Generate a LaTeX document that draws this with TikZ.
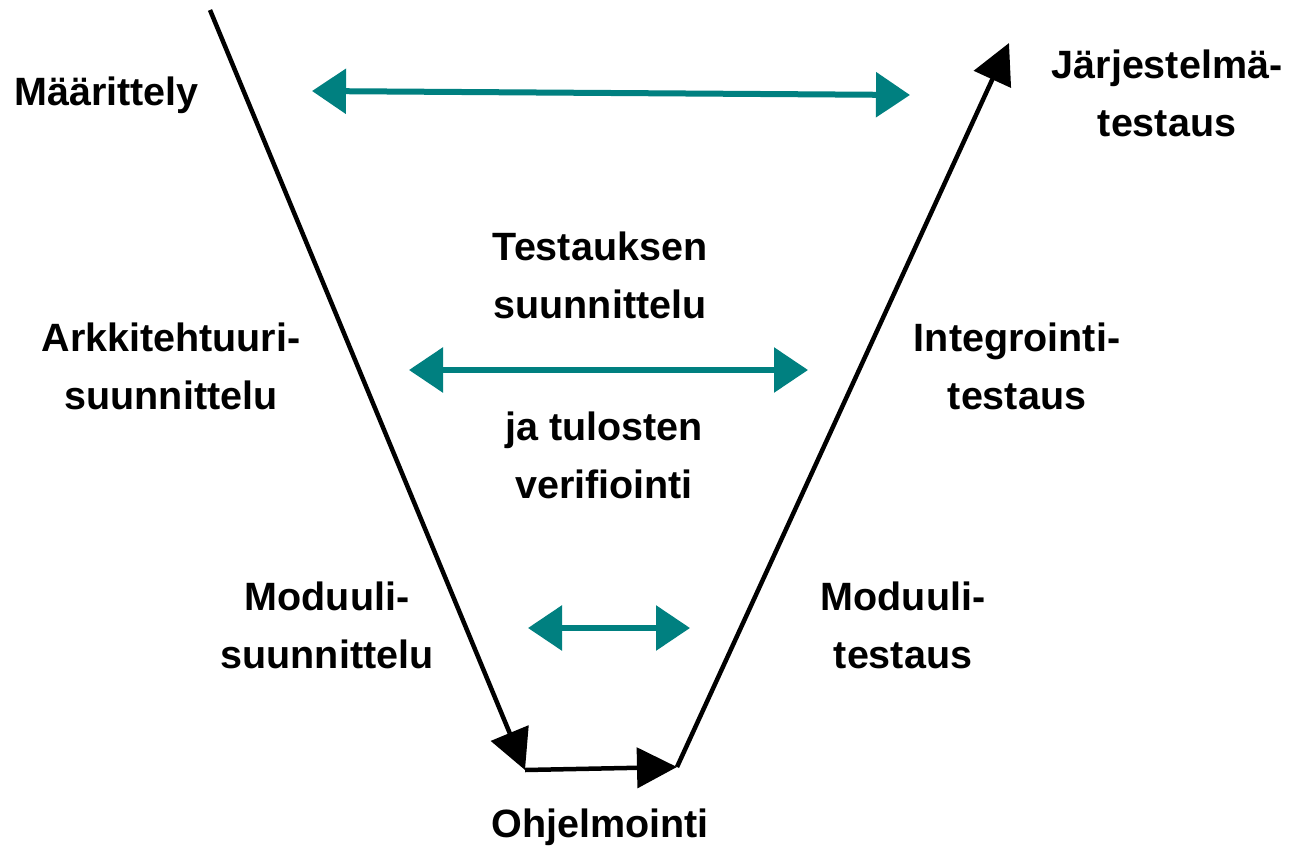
\documentclass[tikz,border=0pt]{standalone}
\usepackage{fontspec}
\setmainfont{Liberation Sans}
\usetikzlibrary{arrows.meta}
\definecolor{tealc}{HTML}{008080}
\begin{document}
\begin{tikzpicture}[x=1pt,y=-1pt,
  lbl/.style={font=\fontsize{39.5}{57.5}\selectfont\bfseries, inner sep=0pt, align=center},
  vline/.style={draw=black, line width=4.5pt, -{Triangle[length=40pt,width=40pt]}},
  tarrow/.style={draw=tealc, line width=6pt, {Triangle[length=34pt,width=44pt]}-{Triangle[length=34pt,width=44pt]}}
]
\useasboundingbox[fill=white] (0,0) rectangle (1290,851);
% V-shaped process path
\coordinate (vtop) at (210,10);
\coordinate (vbl) at (525,770);
\coordinate (vbr) at (677,767);
\coordinate (vtr) at (1009,43);
\draw[vline] (vtop) -- (vbl);
\draw[vline] (vbl) -- (vbr);
\draw[vline] (vbr) -- (vtr);
% labels
\node[lbl, anchor=base west] (maar) at (14,105) {Määrittely};
\node[lbl, anchor=north] (jarj) at (1167,50) {Järjestelmä-\\testaus};
\node[lbl, anchor=north] (tsuun) at (600,232) {Testauksen\\suunnittelu};
\node[lbl, anchor=north] (arkk) at (171,323) {Arkkitehtuuri-\\suunnittelu};
\node[lbl, anchor=north] (integ) at (1017,323) {Integrointi-\\testaus};
\node[lbl, anchor=north] (veri) at (604,412) {ja tulosten\\verifiointi};
\node[lbl, anchor=north] (modl) at (327,582) {Moduuli-\\suunnittelu};
\node[lbl, anchor=north] (modr) at (903,582) {Moduuli-\\testaus};
\node[lbl, anchor=base] (ohj) at (600,837) {Ohjelmointi};
% teal correspondence arrows
\coordinate (a1l) at (312,91);
\coordinate (a1r) at (910,95);
\coordinate (a2l) at (409,370);
\coordinate (a2r) at (808,370);
\coordinate (a3l) at (528,628);
\coordinate (a3r) at (690,628);
\draw[tarrow] (a1l) -- (a1r);
\draw[tarrow] (a2l) -- (a2r);
\draw[tarrow] (a3l) -- (a3r);
\end{tikzpicture}
\end{document}
